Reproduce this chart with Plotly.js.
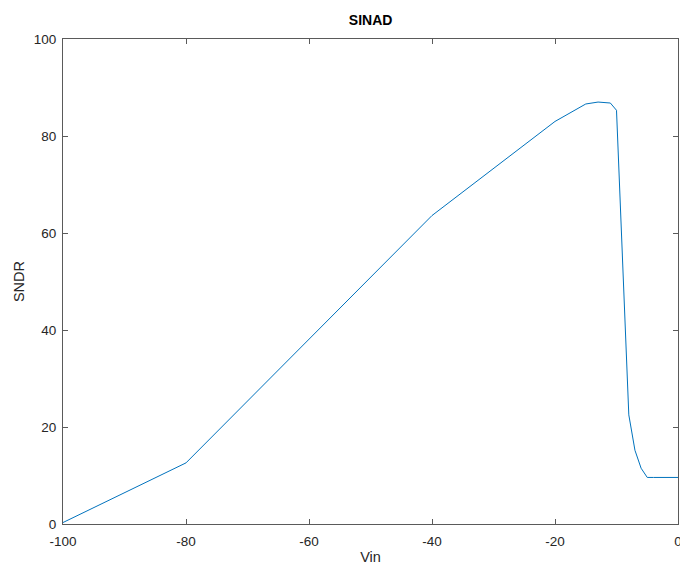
<!DOCTYPE html>
<html>
<head>
<meta charset="utf-8">
<script src="https://cdn.plot.ly/plotly-3.0.1.min.js"></script>
<style>html,body{margin:0;padding:0;background:#fff;}#chart{width:680px;height:565px;}</style>
</head>
<body>
<div id="chart"></div>
<script>
var vin = [-100, -80, -40, -20, -15, -13, -11, -10, -8, -7, -6, -5, -4, -3, -2, -1, 0];
var sndr = [0.3, 12.6, 63.6, 83.0, 86.6, 87.0, 86.8, 85.3, 22.5, 15.2, 11.5, 9.6, 9.6, 9.6, 9.6, 9.6, 9.6];
var xTicks = [-100, -80, -60, -40, -20, 0];
var yTicks = [0, 20, 40, 60, 80, 100];

var fontFam = '"Liberation Sans", Arial, sans-serif';
var axisCommon = {
  showgrid: false,
  zeroline: false,
  showline: true,
  linecolor: '#5a5a5a',
  linewidth: 1,
  mirror: 'ticks',
  ticks: 'inside',
  ticklen: 5,
  tickcolor: '#5a5a5a',
  ticklabeloverflow: 'allow',
  tickfont: {family: fontFam, size: 13.5, color: '#262626'}
};

var trace = {
  x: vin, y: sndr, type: 'scatter', mode: 'lines',
  line: {color: '#0072BD', width: 1}
};

var layout = {
  width: 680, height: 565,
  margin: {l: 63, r: 2, t: 38.5, b: 41},
  paper_bgcolor: '#fff', plot_bgcolor: '#fff',
  showlegend: false,
  title: {text: '<b>SINAD</b>', font: {family: fontFam, size: 14, color: '#000'}, x: 0.545, xanchor: 'center', y: 0.965, yanchor: 'middle'},
  xaxis: Object.assign({}, axisCommon, {
    range: [-100, 0], tickvals: xTicks, ticktext: xTicks.map(String),
    ticklabelstandoff: 5,
    title: {text: 'Vin', font: {family: fontFam, size: 14.5, color: '#262626'}, standoff: 8}
  }),
  yaxis: Object.assign({}, axisCommon, {
    range: [0, 100], tickvals: yTicks, ticktext: yTicks.map(String),
    ticklabelstandoff: 3,
    title: {text: 'SNDR', font: {family: fontFam, size: 14.5, color: '#262626'}, standoff: 5}
  })
};

Plotly.newPlot('chart', [trace], layout, {displayModeBar: false, staticPlot: true});
</script>
</body>
</html>
